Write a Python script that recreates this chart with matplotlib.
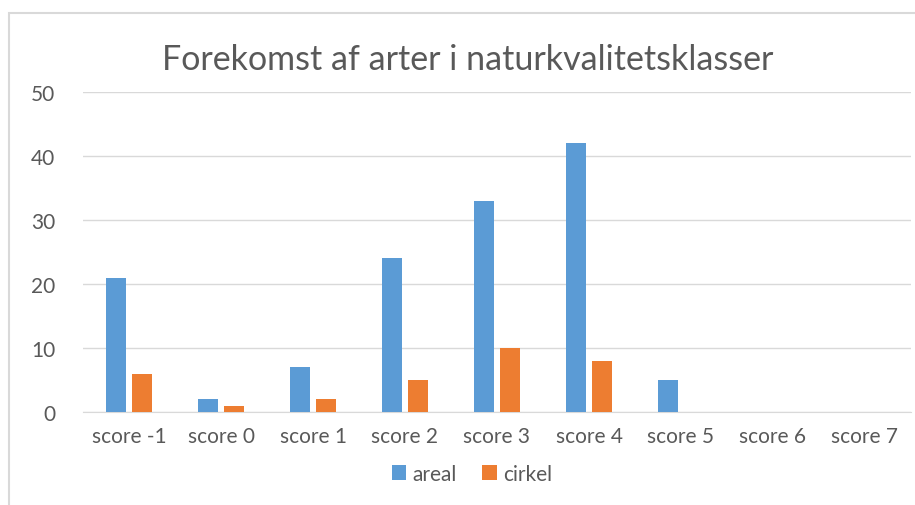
import numpy as np
import matplotlib.pyplot as plt
from matplotlib.patches import Rectangle

plt.rcParams['font.family'] = ['Lato', 'DejaVu Sans']

categories = ["score -1", "score 0", "score 1", "score 2", "score 3",
              "score 4", "score 5", "score 6", "score 7"]
areal = [21, 2, 7, 24, 33, 42, 5, 0, 0]
cirkel = [6, 1, 2, 5, 10, 8, 0, 0, 0]

grey = "#595959"
fig = plt.figure(figsize=(9.15, 5.06), dpi=100)
ax = fig.add_axes([83 / 915, 1 - 413 / 506, (911 - 83) / 915, (413 - 93) / 506])

# chart border (left and top visible)
fig.patches.append(Rectangle((9 / 915, -0.1), 1.2, 1 - 14 / 506 + 0.1,
                             transform=fig.transFigure, fill=False,
                             edgecolor="#d9d9d9", linewidth=1.5))

x = np.arange(len(categories))
w = 0.22
ax.bar(x - 0.14, areal, w, color="#5B9BD5", label="areal", zorder=3)
ax.bar(x + 0.14, cirkel, w, color="#ED7D31", label="cirkel", zorder=3)

ax.set_xlim(-0.5, len(categories) - 0.5)
ax.set_ylim(0, 50)
ax.set_yticks(range(0, 51, 10))
ax.set_xticks(x)
ax.set_xticklabels(categories)
ax.yaxis.grid(True, color="#d9d9d9", linewidth=1, zorder=0)
for s in ["top", "right", "left"]:
    ax.spines[s].set_visible(False)
ax.spines["bottom"].set_color("#d9d9d9")
ax.tick_params(length=0, labelsize=15, labelcolor=grey)
ax.tick_params(axis="y", pad=20)
ax.tick_params(axis="x", pad=10)

fig.text(468 / 915, 1 - 60 / 506, "Forekomst af arter i naturkvalitetsklasser",
         ha="center", va="center", fontsize=24.5, color=grey)

ax.legend(loc="center", bbox_to_anchor=(472 / 915, 1 - 475 / 506),
          bbox_transform=fig.transFigure, ncol=2, frameon=False,
          fontsize=15, labelcolor=grey, handlelength=0.7, handleheight=0.7,
          handletextpad=0.3, columnspacing=1.2)

fig.savefig("out.png", dpi=100, facecolor="white")
